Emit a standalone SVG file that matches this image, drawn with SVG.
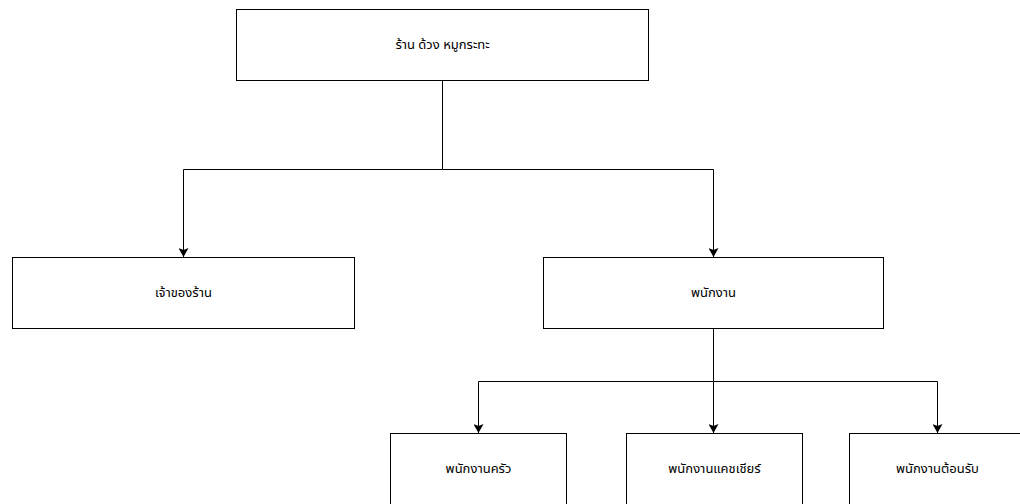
<svg xmlns="http://www.w3.org/2000/svg" width="1020" height="504" viewBox="0 0 1020 504">
<style>
.box{fill:#ffffff;stroke:#000000;stroke-width:1}
.lbl{font-family:Tahoma,"Noto Sans Thai","Noto Sans","DejaVu Sans",sans-serif;font-size:13px;fill:#000000;text-anchor:middle;dominant-baseline:central}
.edge{fill:none;stroke:#000000;stroke-width:1}
</style>
<defs>
<marker id="arr" markerWidth="9" markerHeight="10" refX="9" refY="5" orient="auto" markerUnits="userSpaceOnUse">
<path d="M0,0 L9,5 L0,10 L2,5 Z" fill="#000000"/>
</marker>
</defs>
<rect width="1020" height="504" fill="#ffffff"/>
<g id="connectors">
<path class="edge" d="M442.5,80 V169.5 H183.5 V257" marker-end="url(#arr)"/>
<path class="edge" d="M442.5,169.5 H713.5 V257" marker-end="url(#arr)"/>
<path class="edge" d="M713.5,328 V381.5 H478.5 V433" marker-end="url(#arr)"/>
<path class="edge" d="M713.5,381.5 V433" marker-end="url(#arr)"/>
<path class="edge" d="M713.5,381.5 H937.5 V433" marker-end="url(#arr)"/>
</g>
<g id="node-shop">
<rect class="box" x="236.5" y="9.5" width="412" height="71"/>
<text class="lbl" x="442.5" y="45">ร้าน ด้วง หมูกระทะ</text>
</g>
<g id="node-owner">
<rect class="box" x="12.5" y="257.5" width="342" height="71"/>
<text class="lbl" x="183.5" y="293">เจ้าของร้าน</text>
</g>
<g id="node-staff">
<rect class="box" x="543.5" y="257.5" width="340" height="71"/>
<text class="lbl" x="713.5" y="293">พนักงาน</text>
</g>
<g id="node-kitchen">
<rect class="box" x="390.5" y="433.5" width="176" height="71"/>
<text class="lbl" x="478.5" y="469">พนักงานครัว</text>
</g>
<g id="node-cashier">
<rect class="box" x="626.5" y="433.5" width="176" height="71"/>
<text class="lbl" x="714.5" y="469">พนักงานแคชเชียร์</text>
</g>
<g id="node-reception">
<rect class="box" x="849.5" y="433.5" width="176" height="71"/>
<text class="lbl" x="937.5" y="469">พนักงานต้อนรับ</text>
</g>
</svg>
